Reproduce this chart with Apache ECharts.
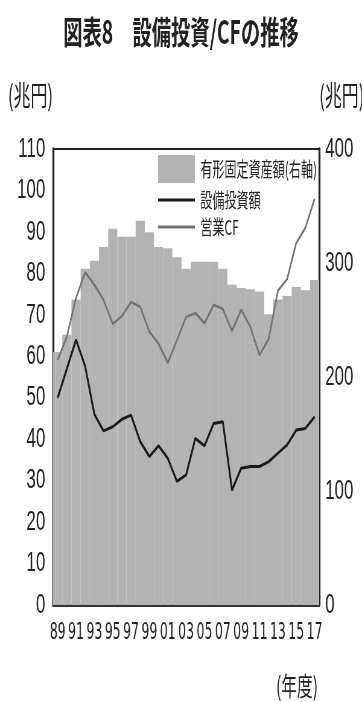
<!DOCTYPE html>
<html>
<head>
<meta charset="utf-8">
<script src="https://cdn.jsdelivr.net/npm/echarts@6/dist/echarts.min.js"></script>
<style>
  html, body { margin: 0; padding: 0; background: #fff; overflow: hidden; }
  /* the chart is laid out on a wider canvas and condensed horizontally */
  #chart { width: 600px; height: 702px; transform: scaleX(0.60333); transform-origin: 0 0; }
</style>
</head>
<body>
<div id="chart"></div>
<script>
// fiscal years 1989-2017
const years = ['89','90','91','92','93','94','95','96','97','98','99','00','01','02','03',
               '04','05','06','07','08','09','10','11','12','13','14','15','16','17'];

// tangible fixed assets, trillion yen (right axis)
const fixedAssets = [222, 237, 268, 295, 302, 314, 330, 323, 323, 337, 327, 314, 313, 305, 295,
                     301, 301, 301, 295, 281, 278, 277, 275, 255, 268, 271, 279, 276, 285];

// capital expenditure, trillion yen (left axis)
const capex = [50, 57, 64, 57.5, 46, 42, 43, 44.8, 45.8, 39.4, 35.8, 38.4, 35.4, 29.8, 31.4,
               40.2, 38.4, 43.8, 44.2, 27.7, 33, 33.4, 33.4, 34.6, 36.6, 38.6, 42.2, 42.6, 45.4];

// operating cash flow, trillion yen (left axis)
const operatingCF = [59.1, 64.7, 74.1, 80.3, 77.2, 73.6, 67.8, 69.7, 73.1, 71.9, 65.9, 63, 58.4, 63.9, 69.5,
                     70.4, 68, 72.4, 71.4, 66.1, 71.2, 67.1, 60.3, 64.2, 75.8, 78.6, 87.3, 91, 98];

const leftTicks = { min: 0, max: 110, interval: 10 };
const rightTicks = { min: 0, max: 400, interval: 100 };

const CJK = '"Noto Sans CJK JP", "Noto Sans", sans-serif';
const NUM = '"Liberation Sans", Arial, sans-serif';
const NUM_NARROW = '"Liberation Sans Narrow", "DejaVu Sans Condensed", "Liberation Sans", sans-serif';
const INK = '#222';
const CAPEX_COLOR = '#1a1a1a';
const CF_COLOR = '#727272';
// plain horizontal stroke used as the legend key of the line series
const LINE_KEY = 'path://M0,0H40V2H0Z';

const chart = echarts.init(document.getElementById('chart'), null, { renderer: 'canvas' });

chart.setOption({
  animation: false,
  backgroundColor: '#fff',
  title: [
    {
      text: '図表8　設備投資/CFの推移',
      left: 'center',
      top: 16,
      padding: 0,
      textStyle: { fontFamily: CJK, fontSize: 32, fontWeight: 'bold', color: INK }
    },
    {
      text: '(年度)',
      right: 73,
      top: 673,
      padding: 0,
      textStyle: { fontFamily: CJK, fontSize: 26, fontWeight: 'normal', color: INK }
    }
  ],
  legend: {
    orient: 'vertical',
    left: 262,
    top: 155,
    itemWidth: 61,
    itemHeight: 28,
    itemGap: 7,
    padding: 0,
    textStyle: { fontFamily: CJK, fontSize: 20, color: INK, padding: [0, 0, 0, 4] },
    data: [
      { name: '有形固定資産額(右軸)', icon: 'rect' },
      { name: '設備投資額', icon: LINE_KEY, itemStyle: { color: CAPEX_COLOR } },
      { name: '営業CF', icon: LINE_KEY, itemStyle: { color: CF_COLOR } }
    ]
  },
  grid: {
    left: 88,
    right: 71,
    top: 149,
    bottom: 97,
    containLabel: false,
    outerBoundsMode: 'none',
    show: true,
    borderColor: INK,
    borderWidth: 2,
    backgroundColor: 'transparent'
  },
  xAxis: {
    type: 'category',
    data: years,
    boundaryGap: true,
    axisLine: { show: true, lineStyle: { color: '#333', width: 3 } },
    axisTick: { show: false },
    axisLabel: {
      interval: 1,
      margin: 17,
      fontFamily: NUM_NARROW,
      fontSize: 23,
      color: INK
    }
  },
  yAxis: [
    {
      type: 'value',
      position: 'left',
      min: leftTicks.min,
      max: leftTicks.max,
      interval: leftTicks.interval,
      name: '(兆円)',
      nameLocation: 'end',
      nameGap: 54,
      nameTextStyle: { fontFamily: CJK, fontSize: 28, color: INK, align: 'right', verticalAlign: 'middle' },
      axisLine: { show: true, lineStyle: { color: INK, width: 3.3 } },
      axisTick: { show: false },
      splitLine: { show: false },
      axisLabel: { margin: 13, fontFamily: NUM, fontSize: 28, color: INK }
    },
    {
      type: 'value',
      position: 'right',
      min: rightTicks.min,
      max: rightTicks.max,
      interval: rightTicks.interval,
      name: '(兆円)',
      nameLocation: 'end',
      nameGap: 54,
      nameTextStyle: { fontFamily: CJK, fontSize: 28, color: INK, align: 'left', verticalAlign: 'middle' },
      axisLine: { show: true, lineStyle: { color: INK, width: 3.3 } },
      axisTick: { show: false },
      splitLine: { show: false },
      axisLabel: { margin: 10, fontFamily: NUM, fontSize: 28, color: INK }
    }
  ],
  series: [
    {
      name: '有形固定資産額(右軸)',
      type: 'bar',
      yAxisIndex: 1,
      data: fixedAssets,
      barCategoryGap: '0%',
      itemStyle: { color: '#b3b3b3' },
      z: 1
    },
    {
      name: '設備投資額',
      type: 'line',
      yAxisIndex: 0,
      data: capex,
      symbol: 'none',
      showSymbol: false,
      lineStyle: { color: CAPEX_COLOR, width: 3 },
      itemStyle: { color: CAPEX_COLOR },
      z: 3
    },
    {
      name: '営業CF',
      type: 'line',
      yAxisIndex: 0,
      data: operatingCF,
      symbol: 'none',
      showSymbol: false,
      lineStyle: { color: CF_COLOR, width: 2.6 },
      itemStyle: { color: CF_COLOR },
      z: 2
    }
  ]
});
</script>
</body>
</html>
